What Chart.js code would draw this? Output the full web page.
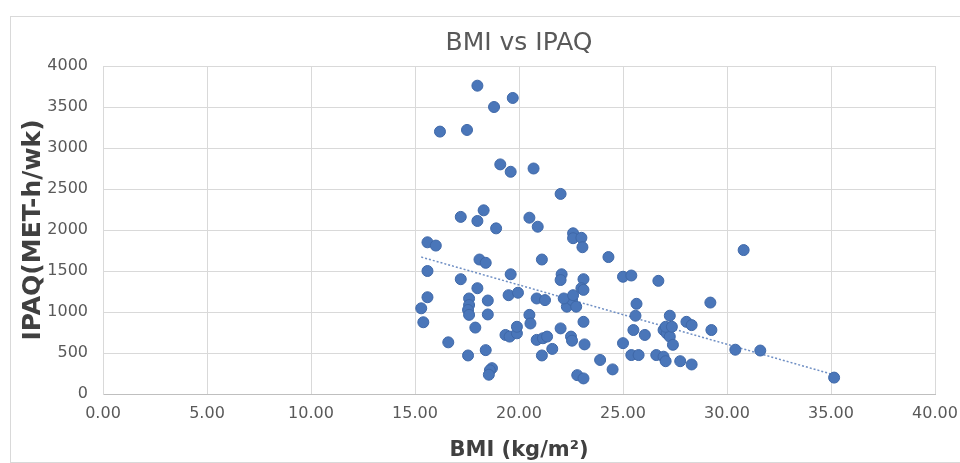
<!DOCTYPE html>
<html>
<head>
<meta charset="utf-8">
<title>BMI vs IPAQ</title>
<script src="https://cdn.jsdelivr.net/npm/chart.js@4"></script>
<style>
  html, body { margin: 0; padding: 0; background: #fff; }
  #chart { display: block; }
</style>
</head>
<body>
<canvas id="chart" width="960" height="463"></canvas>
<script>
// BMI (kg/m2) of each participant
const bmi = [
  18.0, 19.7, 18.8, 16.2, 17.5, 19.1, 19.6, 20.7,
  22.0, 17.2, 18.3, 18.0, 18.9, 20.5, 20.9, 15.6, 16.0, 15.6, 18.1, 18.4,
  21.1, 19.6, 17.2, 18.0, 22.05, 22.0,
  22.6, 22.6, 23.0, 23.05, 24.3, 30.8, 23.1, 23.0, 25.0, 25.4, 26.7,
  15.6, 15.3, 15.4, 17.6, 17.6, 17.55, 17.6, 18.5, 18.5, 17.9, 16.6, 17.55,
  18.4, 18.7, 18.6, 18.55, 19.5, 19.95, 19.35, 19.55, 19.9, 19.9, 20.5,
  20.55, 20.85, 21.25, 22.0, 20.85, 21.15, 21.35, 21.1, 21.6, 22.5, 22.55,
  22.3, 22.55, 22.8,
  22.15, 22.6, 22.75, 23.1, 23.1, 23.15, 23.9, 24.5, 23.1,
  25.65, 25.6, 25.5, 26.05, 25.0, 25.4, 25.75, 27.25, 26.95, 27.1, 27.25,
  27.4, 27.05, 27.35, 28.05, 28.3, 29.2, 29.25, 30.4, 26.6, 26.95, 27.05,
  27.75, 28.3, 31.6, 35.15
];
// IPAQ (MET-h/wk), same order as bmi
const ipaq = [
  3760, 3610, 3500, 3200, 3220, 2800, 2710, 2750,
  2440, 2160, 2240, 2110, 2020, 2150, 2040, 1850, 1810, 1500, 1640, 1600,
  1640, 1460, 1400, 1290, 1460, 1390,
  1960, 1900, 1905, 1790, 1670, 1755, 1400, 1290, 1430, 1445, 1380,
  1180, 1045, 875, 1165, 1085, 1025, 965, 1140, 970, 810, 630, 470,
  535, 315, 290, 235, 1205, 1235, 720, 700, 740, 820, 965,
  860, 1165, 1145, 800, 660, 680, 700, 470, 550, 700, 650,
  1065, 1145, 230,
  1165, 1205, 1065, 1270, 880, 605, 415, 300, 190,
  1100, 955, 780, 720, 620, 475, 475, 955, 780, 740, 700,
  600, 820, 820, 880, 840, 1115, 780, 540, 475, 455, 400,
  400, 360, 530, 200
];
// dotted linear trendline, end points
const trendX = [15.3, 35.2];
const trendY = [1670, 230];

const xTicks = [0, 5, 10, 15, 20, 25, 30, 35, 40];
const yTicks = [0, 500, 1000, 1500, 2000, 2500, 3000, 3500, 4000];

const points = bmi.map((b, i) => ({ x: b, y: ipaq[i] }));
const trend = trendX.map((t, i) => ({ x: t, y: trendY[i] }));

// light frame round the whole chart, like the Excel chart area
const frame = {
  id: 'frame',
  beforeDraw(chart) {
    const c = chart.ctx;
    c.save();
    c.strokeStyle = '#d9d9d9';
    c.lineWidth = 1;
    c.strokeRect(10.5, 16.5, 952, 446);
    c.restore();
  }
};

new Chart(document.getElementById('chart'), {
  type: 'scatter',
  data: {
    datasets: [
      {
        label: 'IPAQ',
        data: points,
        backgroundColor: '#4a76b9',
        borderColor: '#3f68a8',
        borderWidth: 1,
        pointRadius: 5.5,
        order: 1
      },
      {
        label: 'Linear',
        type: 'line',
        data: trend,
        showLine: true,
        borderColor: '#6f8fc4',
        borderWidth: 1.5,
        borderDash: [2, 2],
        pointRadius: 0,
        fill: false,
        order: 2
      }
    ]
  },
  options: {
    responsive: false,
    animation: false,
    layout: { padding: { left: 10, right: 0, top: 16, bottom: 0 } },
    plugins: {
      legend: { display: false },
      tooltip: { enabled: false },
      title: {
        display: true,
        text: 'BMI vs IPAQ',
        fullSize: false,
        color: '#595959',
        font: { family: 'DejaVu Sans', size: 25, weight: 'normal' },
        padding: { top: 12, bottom: 8 }
      }
    },
    scales: {
      x: {
        type: 'linear',
        min: 0,
        max: 40,
        afterFit(s) { s.height = 69; s.paddingRight = 25; s.paddingLeft = 0; },
        afterBuildTicks(s) { s.ticks = xTicks.map(v => ({ value: v })); },
        grid: { color: '#d9d9d9', drawTicks: false },
        border: { color: '#bfbfbf' },
        ticks: {
          padding: 10,
          color: '#595959',
          font: { family: 'DejaVu Sans', size: 16 },
          callback: v => v.toFixed(2)
        },
        title: {
          display: true,
          text: 'BMI (kg/m²)',
          color: '#404040',
          font: { family: 'DejaVu Sans', size: 21, weight: 'bold' },
          padding: { top: 0, bottom: 0 }
        }
      },
      y: {
        min: 0,
        max: 4000,
        afterFit(s) { s.width = 93; },
        afterBuildTicks(s) { s.ticks = yTicks.map(v => ({ value: v })); },
        grid: { color: '#d9d9d9', drawTicks: false },
        border: { color: '#d9d9d9' },
        ticks: {
          padding: 15,
          color: '#595959',
          font: { family: 'DejaVu Sans', size: 16 },
          callback: v => String(v)
        },
        title: {
          display: true,
          text: 'IPAQ(MET-h/wk)',
          color: '#404040',
          font: { family: 'DejaVu Sans', size: 25, weight: 'bold' },
          padding: { top: 8, bottom: 0 }
        }
      }
    }
  },
  plugins: [frame]
});
</script>
</body>
</html>
